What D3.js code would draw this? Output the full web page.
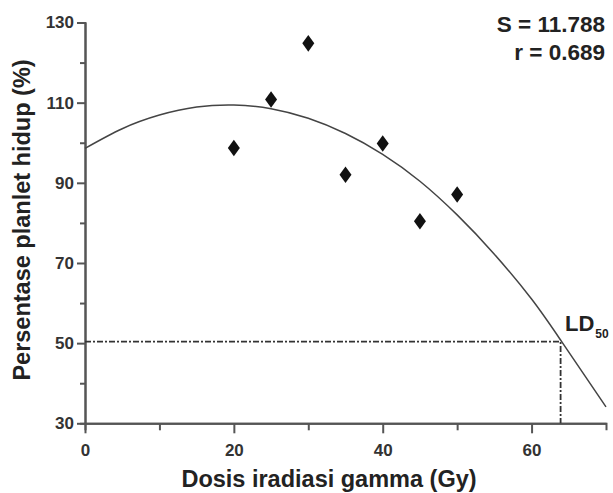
<!DOCTYPE html>
<html lang="en">
<head>
<meta charset="utf-8">
<title>Persentase planlet hidup vs dosis iradiasi gamma</title>
<script src="https://cdn.jsdelivr.net/npm/d3@7"></script>
<style>
  body { margin: 0; background: #fff; }
  svg { display: block; font-family: "Liberation Sans", Arial, Helvetica, sans-serif; font-weight: bold; }
  .axis path, .axis line { stroke: #555; stroke-width: 2; }
  .axis text { font-size: 17px; fill: #333; font-weight: bold; }
</style>
</head>
<body>
<script>
// observed points
var doses    = [20, 25, 30, 35, 40, 45, 50];
var survival = [98.7, 110.8, 124.8, 92.0, 99.8, 80.4, 87.1];

// fitted curve
var curveX = [0, 5, 10, 15, 20, 25, 30, 35, 40, 45, 50, 55, 60, 64, 70];
var curveY = [98.6, 103.5, 106.9, 108.9, 109.4, 108.5, 106.1, 102.3, 97.1, 90.4, 82.0, 72.2, 61.0, 50.5, 34.1];

var ld50 = [63.9, 50.4];  // dose, survival

var xTicks = [0, 20, 40, 60], xMinor = [10, 30, 50];
var yTicks = [30, 50, 70, 90, 110, 130], yMinor = [40, 60, 80, 100, 120];
var stats = ["S = 11.788", "r = 0.689"];

var W = 613, H = 493;
var plotL = 85, plotR = 606, plotT = 22.5, plotB = 423.3;

var svg = d3.select("body").append("svg")
  .attr("width", W).attr("height", H);

var x = d3.scaleLinear().domain([0, 70]).range([plotL, plotR]);
var y = d3.scaleLinear().domain([30, 130]).range([plotB, plotT]);

// minor ticks first
svg.append("g").attr("class", "axis")
  .attr("transform", "translate(0," + plotB + ")")
  .call(d3.axisBottom(x).tickValues(xMinor).tickSize(7).tickFormat(""));
svg.append("g").attr("class", "axis")
  .attr("transform", "translate(" + plotL + ",0)")
  .call(d3.axisLeft(y).tickValues(yMinor).tickSize(5).tickFormat(""));

svg.append("g").attr("class", "axis")
  .attr("transform", "translate(0," + plotB + ")")
  .call(d3.axisBottom(x).tickValues(xTicks).tickSize(10).tickSizeOuter(0).tickPadding(11));
svg.append("g").attr("class", "axis")
  .attr("transform", "translate(" + plotL + ",0)")
  .call(d3.axisLeft(y).tickValues(yTicks).tickSize(8).tickSizeOuter(0).tickPadding(3));

// LD50 guide lines
var guide = d3.line().x(function(d) { return x(d[0]); }).y(function(d) { return y(d[1]); });
svg.append("path")
  .attr("d", guide([[0, ld50[1]], [ld50[0], ld50[1]], [ld50[0], 30]]))
  .attr("fill", "none")
  .attr("stroke", "#333")
  .attr("stroke-width", 1.8)
  .attr("stroke-dasharray", "6,2,2,2");

// regression curve
var line = d3.line()
  .x(function(d, i) { return x(curveX[i]); })
  .y(function(d) { return y(d); })
  .curve(d3.curveNatural);
svg.append("path")
  .attr("d", line(curveY))
  .attr("fill", "none")
  .attr("stroke", "#444")
  .attr("stroke-width", 1.5);

// tall diamond marker
var tallDiamond = {
  draw: function(ctx, size) {
    var w = 6, h = 8.3;
    ctx.moveTo(0, -h); ctx.lineTo(w, 0); ctx.lineTo(0, h); ctx.lineTo(-w, 0); ctx.closePath();
  }
};
svg.selectAll(".pt")
  .data(doses)
  .enter().append("path")
  .attr("class", "pt")
  .attr("d", d3.symbol().type(tallDiamond))
  .attr("transform", function(d, i) { return "translate(" + x(d) + "," + y(survival[i]) + ")"; })
  .attr("fill", "#111");

// LD50 label
var lab = svg.append("text")
  .attr("x", 565).attr("y", 330.5)
  .attr("font-size", "22px").attr("fill", "#222");
lab.append("tspan").text("LD");
lab.append("tspan").attr("font-size", "12px").attr("dx", 1).attr("dy", 7).text("50");

// stats
svg.selectAll(".stat")
  .data(stats)
  .enter().append("text")
  .attr("class", "stat")
  .attr("x", 605)
  .attr("y", function(d, i) { return 31.5 + i * 28.5; })
  .attr("text-anchor", "end")
  .attr("font-size", "22.5px")
  .attr("fill", "#222")
  .text(function(d) { return d; });

// axis titles
svg.append("text")
  .attr("x", 329).attr("y", 487)
  .attr("text-anchor", "middle")
  .attr("font-size", "23.5px").attr("fill", "#222")
  .text("Dosis iradiasi gamma (Gy)");
svg.append("text")
  .attr("transform", "translate(30,220) rotate(-90)")
  .attr("text-anchor", "middle")
  .attr("font-size", "23.5px").attr("fill", "#222")
  .text("Persentase planlet hidup (%)");
</script>
</body>
</html>
